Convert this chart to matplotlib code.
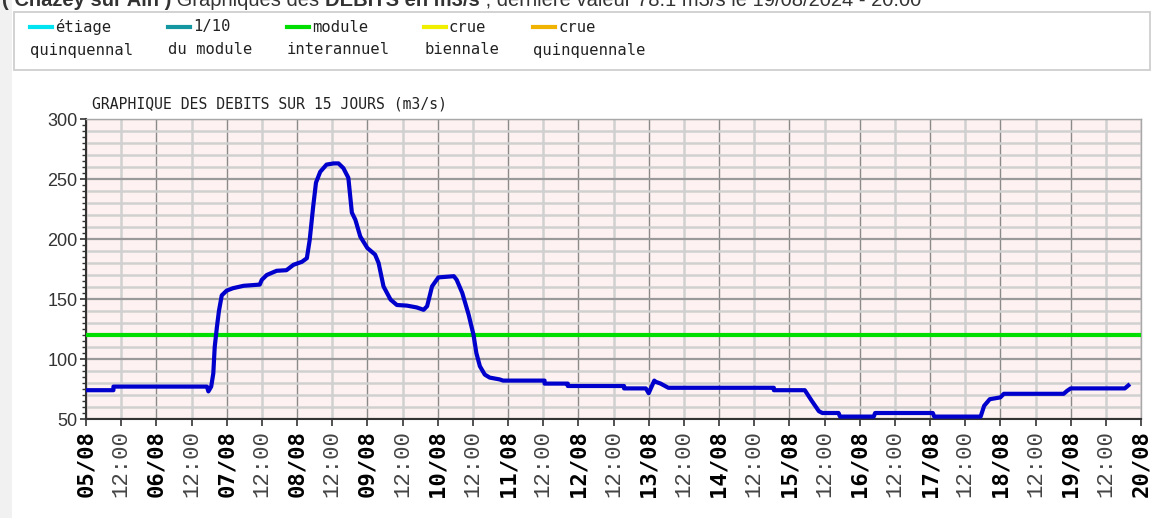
import numpy as np
import matplotlib.pyplot as plt
from matplotlib.patches import Rectangle
from matplotlib.lines import Line2D

# debits en m3/s, temps en jours depuis le 05/08 00:00
jours = [0, 0.39, 0.39, 1.72, 1.74, 1.78, 1.81, 1.83, 1.86, 1.89, 1.93, 2.0,
         2.09, 2.24, 2.47, 2.5, 2.57, 2.71, 2.85, 2.95, 3.07, 3.14, 3.18, 3.23,
         3.27, 3.33, 3.42, 3.52, 3.59, 3.66, 3.73, 3.78, 3.83, 3.9, 4.0, 4.11,
         4.16, 4.23, 4.33, 4.42, 4.56, 4.7, 4.8, 4.85, 4.92, 5.01, 5.23, 5.27,
         5.35, 5.44, 5.51, 5.55, 5.6, 5.67, 5.74, 5.88, 5.93, 6.52, 6.52, 6.85,
         6.85, 7.65, 7.65, 7.96, 8.0, 8.08, 8.1, 8.17, 8.28, 9.78, 9.78, 10.22,
         10.32, 10.42, 10.47, 10.70, 10.72, 11.2, 11.22, 12.04, 12.06, 12.72,
         12.77, 12.85, 13.0, 13.05, 13.9, 13.95, 14.0, 14.77, 14.82]
debits = [74, 74, 77, 77, 73, 77, 88, 110, 126, 140, 153, 157,
          159, 161, 162, 166, 170, 173.5, 174, 178.5, 181, 184, 199, 227,
          247, 256, 262, 263, 263, 259, 251, 222, 216, 202, 192.5, 187,
          180, 160.5, 149.5, 145, 144.5, 143, 141, 144, 160.5, 168, 169, 166,
          155, 137, 120, 105, 94, 87, 84.5, 83, 82, 82, 79.5, 79.5,
          77.5, 77.5, 75.5, 75.5, 71.5, 82, 81, 79.5, 76, 76, 74, 74,
          65, 56.5, 55, 55, 52, 52, 55, 55, 52, 52,
          61, 66.5, 68, 71, 71, 73.5, 75.5, 75.5, 78]
module_interannuel = 120

etiquettes_jours = ['05/08', '06/08', '07/08', '08/08', '09/08', '10/08',
                    '11/08', '12/08', '13/08', '14/08', '15/08', '16/08',
                    '17/08', '18/08', '19/08', '20/08']
legende_haut = ['étiage', '1/10', 'module', 'crue', 'crue']
legende_bas = ['quinquennal', 'du module', 'interannuel', 'biennale', 'quinquennale']
legende_couleurs = ['#00e3f0', '#1497a0', '#00dd00', '#f0ef00', '#f0b400']

W, H = 1158, 518
fig = plt.figure(figsize=(W / 100, H / 100), dpi=100)
fig.patch.set_facecolor('white')


def fx(px):
    return px / W


def fy(py):
    return 1 - py / H


# bande grise a gauche + cadre de legende
fig.patches.append(Rectangle((0, 0), fx(12), 1, transform=fig.transFigure,
                             facecolor='#f1f1f1', edgecolor='none', zorder=0))
fig.patches.append(Rectangle((fx(14), fy(70)), fx(1150) - fx(14), fy(12) - fy(70),
                             transform=fig.transFigure, facecolor='white',
                             edgecolor='#cfcfcf', lw=1.3, zorder=1))

# titre tronque en haut (coupe par le bord comme sur l'original)
morceaux = [('( Chazey sur Ain )', 'bold'), (' Graphiques des ', 'normal'),
            ('DEBITS en m3/s', 'bold'),
            (' , dernière valeur 78.1 m3/s le 19/08/2024 - 20:00', 'normal')]
renderer = fig.canvas.get_renderer()
x0 = fx(2)
for txt, w in morceaux:
    t = fig.text(x0, fy(6), txt, fontsize=14.5, fontweight=w, color='#333333',
                 family='Liberation Sans', va='baseline', ha='left')
    bb = t.get_window_extent(renderer)
    x0 += bb.width / W

# legende manuelle
xs_leg = [30, 168, 287, 424, 533]
for x, haut, bas, c in zip(xs_leg, legende_haut, legende_bas, legende_couleurs):
    fig.add_artist(Line2D([fx(x), fx(x + 22)], [fy(27), fy(27)], color=c, lw=3,
                          transform=fig.transFigure))
    fig.text(fx(x + 25), fy(27), haut, family='DejaVu Sans Mono', fontsize=11.2,
             va='center', ha='left', color='#222222')
    fig.text(fx(x), fy(50), bas, family='DejaVu Sans Mono', fontsize=11.2,
             va='center', ha='left', color='#222222')

ax = fig.add_axes([fx(86), fy(419), fx(1141) - fx(86), fy(119) - fy(419)])
ax.set_facecolor('#fdf1f1')
ax.set_xlim(0, 15)
ax.set_ylim(50, 300)

for v in range(60, 300, 10):
    if v % 50:
        ax.axhline(v, color='#d0d0d0', lw=1.8, zorder=0.6)

ax.set_yticks(range(50, 301, 50))
ax.set_yticks(np.arange(50, 301, 5), minor=True)
ax.set_xticks(range(16), etiquettes_jours, family='DejaVu Sans Mono',
              fontweight='bold', rotation=90, fontsize=16)
ax.set_xticks(np.arange(0.5, 15, 1), ['12:00'] * 15, minor=True,
              family='Liberation Mono', rotation=90, fontsize=16, color='#444444')
ax.grid(axis='y', which='major', color='#9a9a9a', lw=1.6)
ax.grid(axis='x', which='major', color='#8a8a8a', lw=1)
ax.grid(axis='x', which='minor', color='#d0d0d0', lw=1.8)
ax.set_axisbelow(True)

ax.tick_params(axis='x', which='both', length=5, width=1.2, pad=3, color='#333333')
ax.tick_params(axis='y', which='major', length=4, width=1.2, pad=2,
               labelsize=13, labelcolor='#333333', color='#333333')
ax.tick_params(axis='y', which='minor', length=3, width=1, color='#333333')
for lab in ax.get_yticklabels():
    lab.set_family('Liberation Sans')

for s in ['left', 'bottom']:
    ax.spines[s].set_color('#333333')
    ax.spines[s].set_linewidth(1.5)
for s in ['top', 'right']:
    ax.spines[s].set_color('#a8a8a8')
    ax.spines[s].set_linewidth(1)

ax.axhline(module_interannuel, color='#00dd00', lw=3, zorder=3)
ax.plot(jours, debits, color='#0000cc', lw=3, solid_joinstyle='round', zorder=4)

fig.text(fx(92), fy(104), 'GRAPHIQUE DES DEBITS SUR 15 JOURS (m3/s)',
         family='DejaVu Sans Mono', fontsize=10.6, va='center', ha='left',
         color='#222222')

fig.savefig('out.png', dpi=100)
